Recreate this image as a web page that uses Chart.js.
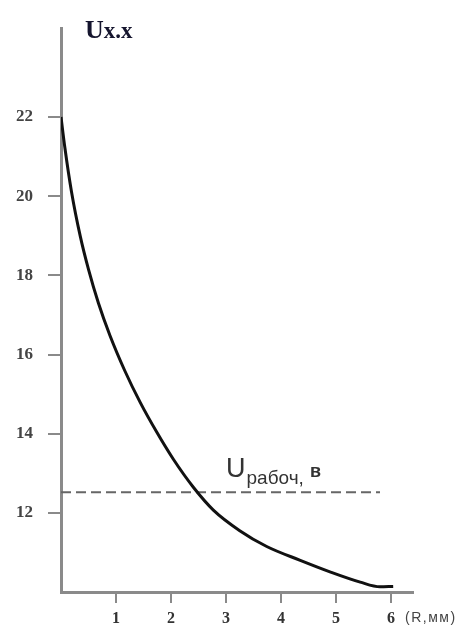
<!DOCTYPE html>
<html>
<head>
<meta charset="utf-8">
<script src="https://cdn.jsdelivr.net/npm/chart.js@4/dist/chart.umd.min.js"></script>
<style>
    html, body { margin: 0; padding: 0; background: #fff; }
    #wrap { width: 459px; height: 628px; position: relative; }
</style>
</head>
<body>
<div id="wrap"><canvas id="chart"></canvas></div>
<script>
// R (mm) vs U (V)
const rValues = [0, 0.07, 0.19, 0.35, 0.50, 0.68, 0.89, 1.16, 1.44, 1.74, 2.04, 2.41, 2.77, 3.25, 3.74, 4.35, 4.89, 5.44, 5.80, 6.04];
const uValues = [22, 21.23, 20.12, 18.99, 18.15, 17.30, 16.48, 15.59, 14.79, 14.04, 13.36, 12.64, 12.07, 11.55, 11.15, 10.80, 10.51, 10.25, 10.13, 10.14];

// working voltage level (dashed)
const workLevel = 12.52;
const workRange = [0, 5.8];

const xTicks = [1, 2, 3, 4, 5, 6];
const yTicks = [12, 14, 16, 18, 20, 22];

const axisColor = '#8a8a8a';

const labelsPlugin = {
    id: 'labels',
    afterDraw(chart) {
        const ctx = chart.ctx;
        const area = chart.chartArea;
        ctx.save();
        ctx.textBaseline = 'alphabetic';
        ctx.textAlign = 'left';

        // axis name on top
        ctx.fillStyle = '#15152e';
        ctx.font = 'bold 26px "Liberation Serif", serif';
        ctx.fillText('U', area.left + 24, 38);
        const uw = ctx.measureText('U').width;
        ctx.font = 'bold 23px "Liberation Serif", serif';
        ctx.fillText('x.x', area.left + 24 + uw, 38);

        // x axis unit
        ctx.fillStyle = '#444';
        ctx.font = '14px "Liberation Sans", sans-serif';
        ctx.letterSpacing = '1.5px';
        ctx.textBaseline = 'middle';
        ctx.fillText('(R,мм)', area.right - 8, 618);
        ctx.letterSpacing = '0px';

        // working voltage label
        ctx.textBaseline = 'alphabetic';
        ctx.fillStyle = '#333';
        ctx.font = '27px "Liberation Sans", sans-serif';
        const xs = chart.scales.x.getPixelForValue(3.0);
        const ys = chart.scales.y.getPixelForValue(workLevel) - 15;
        ctx.fillText('U', xs, ys);
        const w = ctx.measureText('U').width;
        ctx.font = '19px "Liberation Sans", sans-serif';
        ctx.fillText('рабоч,', xs + w + 1, ys + 7);
        const w2 = ctx.measureText('рабоч, ').width;
        ctx.font = 'bold 18px "Liberation Sans", sans-serif';
        ctx.fillText('в', xs + w + 2 + w2, ys);
        ctx.restore();
    }
};

new Chart(document.getElementById('chart'), {
    type: 'line',
    data: {
        datasets: [
            {
                data: rValues.map((r, i) => ({ x: r, y: uValues[i] })),
                borderColor: '#111',
                borderWidth: 3,
                pointRadius: 0,
                cubicInterpolationMode: 'monotone',
                fill: false
            },
            {
                data: workRange.map(r => ({ x: r, y: workLevel })),
                borderColor: '#666',
                borderWidth: 2,
                borderDash: [10, 5],
                pointRadius: 0,
                fill: false
            }
        ]
    },
    options: {
        responsive: true,
        maintainAspectRatio: false,
        animation: false,
        layout: { padding: { top: 28, right: 46, left: 0, bottom: 0 } },
        plugins: {
            legend: { display: false },
            tooltip: { enabled: false }
        },
        scales: {
            x: {
                type: 'linear',
                min: 0,
                max: 6.4,
                afterBuildTicks: scale => { scale.ticks = xTicks.map(v => ({ value: v })); },
                afterFit: scale => { scale.height = 36; },
                grid: {
                    drawOnChartArea: false,
                    drawTicks: true,
                    tickLength: 11,
                    color: axisColor,
                    lineWidth: 2
                },
                border: { display: true, color: axisColor, width: 3 },
                ticks: {
                    padding: 6,
                    color: '#333',
                    font: { family: '"Liberation Serif", serif', size: 16, weight: 'bold' }
                }
            },
            y: {
                type: 'linear',
                min: 10,
                max: 24.25,
                afterBuildTicks: scale => { scale.ticks = yTicks.map(v => ({ value: v })); },
                afterFit: scale => { scale.width = 61; },
                grid: {
                    drawOnChartArea: false,
                    drawTicks: true,
                    tickLength: 13,
                    color: axisColor,
                    lineWidth: 2
                },
                border: { display: true, color: axisColor, width: 3 },
                ticks: {
                    padding: 15,
                    color: '#444',
                    font: { family: '"Liberation Serif", serif', size: 17, weight: 'bold' }
                }
            }
        }
    },
    plugins: [labelsPlugin]
});
</script>
</body>
</html>
